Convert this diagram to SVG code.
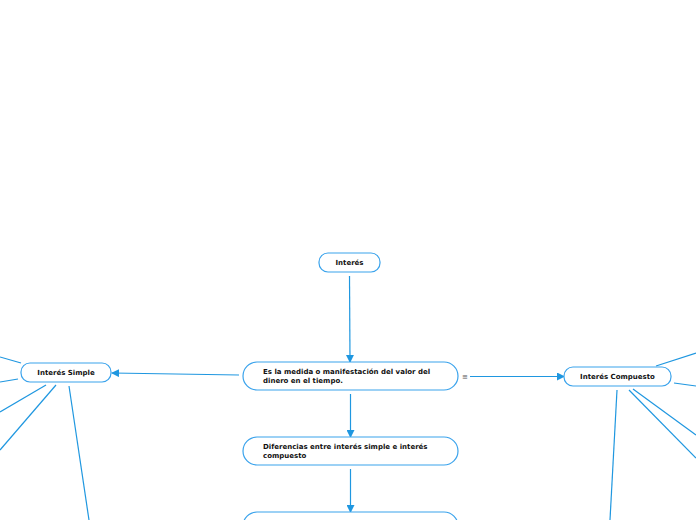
<svg xmlns="http://www.w3.org/2000/svg" width="696" height="520" viewBox="0 0 696 520">
<defs>
<marker id="ah" markerWidth="8" markerHeight="8" refX="7" refY="4" orient="auto" markerUnits="userSpaceOnUse">
<path d="M0,0 L8,4 L0,8 Z" fill="#1f97e0"/>
</marker>
</defs>
<style>
.node rect{fill:#fff;stroke:#3aa3ec;stroke-width:1.2}
.node text{font-family:"DejaVu Sans",Verdana,sans-serif;font-weight:bold;font-size:7px;fill:#111}
.c line{stroke:#1f97e0;stroke-width:1.2;fill:none}
.arr{marker-end:url(#ah)}
</style>
<rect width="696" height="520" fill="#fff"/>
<g class="c" id="connectors">
<line class="arr" x1="349.5" y1="276" x2="350" y2="362"/>
<line class="arr" x1="350.5" y1="394" x2="350.5" y2="437"/>
<line class="arr" x1="350.5" y1="469" x2="350.5" y2="512"/>
<line class="arr" x1="239" y1="375" x2="112" y2="373"/>
<line class="arr" x1="470" y1="376.5" x2="564" y2="376.5"/>
<line x1="0" y1="357" x2="21" y2="363"/>
<line x1="0" y1="382" x2="18" y2="379"/>
<line x1="0" y1="412" x2="46" y2="385"/>
<line x1="0" y1="450" x2="56" y2="385"/>
<line x1="69" y1="386" x2="89" y2="520"/>
<line x1="656" y1="366" x2="696" y2="353"/>
<line x1="674" y1="383" x2="696" y2="386"/>
<line x1="633" y1="389" x2="696" y2="435"/>
<line x1="629" y1="390" x2="696" y2="458"/>
<line x1="617" y1="390" x2="610" y2="520"/>
</g>
<g class="node" id="n-interes">
<rect x="319" y="253" width="61" height="19" rx="9"/>
<text x="349.5" y="265" text-anchor="middle">Interés</text>
</g>
<g class="node" id="n-definicion">
<rect x="243" y="362" width="215" height="28" rx="14"/>
<text x="263" y="373.5">Es la medida o manifestación del valor del</text>
<text x="263" y="382.5">dinero en el tiempo.</text>
</g>
<text x="465" y="379" font-family="DejaVu Sans,sans-serif" font-size="7" fill="#555" text-anchor="middle">≡</text>
<g class="node" id="n-simple">
<rect x="21" y="363" width="90" height="19" rx="9"/>
<text x="66" y="375" text-anchor="middle">Interés Simple</text>
</g>
<g class="node" id="n-compuesto">
<rect x="564" y="367" width="107" height="19" rx="9"/>
<text x="617.5" y="379" text-anchor="middle">Interés Compuesto</text>
</g>
<g class="node" id="n-diferencias">
<rect x="243" y="437" width="215" height="28" rx="14"/>
<text x="263" y="448.5">Diferencias entre interés simple e interés</text>
<text x="263" y="457.5">compuesto</text>
</g>
<g class="node" id="n-bottom">
<rect x="243" y="512" width="215" height="28" rx="14"/>
</g>
</svg>
